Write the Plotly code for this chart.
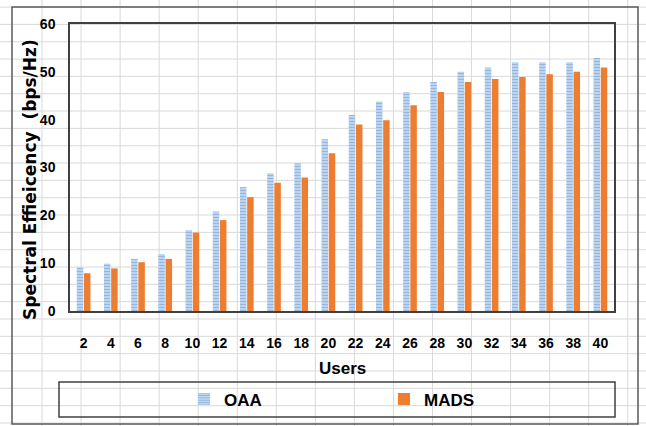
import plotly.graph_objects as go

users = ["2", "4", "6", "8", "10", "12", "14", "16", "18", "20",
         "22", "24", "26", "28", "30", "32", "34", "36", "38", "40"]
oaa = [9.1, 9.9, 10.9, 11.9, 16.9, 20.8, 25.9, 28.8, 30.9, 35.9,
       41.0, 43.8, 45.8, 47.9, 50.0, 50.9, 52.0, 52.0, 52.0, 52.9]
mads = [7.9, 8.9, 10.2, 10.9, 16.4, 19.0, 23.8, 26.8, 27.9, 33.0,
        39.0, 39.9, 43.0, 45.8, 47.9, 48.5, 48.9, 49.5, 50.0, 50.9]
y_ticks = [0, 10, 20, 30, 40, 50, 60]

W, H = 646, 426
L, R, T, B = 70, 614, 24, 311

def px(x):
    return (x - L) / (R - L)

def py(y):
    return (B - y) / (B - T)

fig = go.Figure()
fig.add_trace(go.Bar(
    x=users, y=oaa, name="OAA",
    marker=dict(color="#3f80cc", line=dict(width=0),
                pattern=dict(shape="-", size=3, solidity=0.67,
                             fgcolor="#3f80cc", bgcolor="#e6eff9")),
))
fig.add_trace(go.Bar(
    x=users, y=mads, name="MADS",
    marker=dict(color="#ed7d31", line=dict(width=0)),
))

shapes = []
grid = dict(color="#d9d9d9", width=1)
# spreadsheet cell grid behind the chart
k = 0
while True:
    xv = 42 + 39.05 * k
    if xv > W:
        break
    shapes.append(dict(type="line", xref="paper", yref="paper", layer="below",
                       x0=px(xv), x1=px(xv), y0=py(0), y1=py(H), line=grid))
    k += 1
k = -1
while True:
    yv = 24.4 + 17.33 * k
    if yv > H:
        break
    shapes.append(dict(type="line", xref="paper", yref="paper", layer="below",
                       x0=px(0), x1=px(W), y0=py(yv), y1=py(yv), line=grid))
    k += 1
# outer chart border
shapes.append(dict(type="rect", xref="paper", yref="paper", layer="below",
                   x0=px(12), x1=px(638), y0=py(424), y1=py(7),
                   line=dict(color="#595959", width=1.5)))
# legend box
shapes.append(dict(type="rect", xref="paper", yref="paper", layer="below",
                   x0=px(59), x1=px(615), y0=py(417), y1=py(382),
                   line=dict(color="#404040", width=1.5)))

tick_font = dict(family="Liberation Sans Narrow, Arial Narrow, Liberation Sans, sans-serif",
                 size=14, color="black", weight="bold")

fig.update_layout(
    width=W, height=H,
    margin=dict(l=L, r=W - R, t=T, b=H - B, autoexpand=False),
    paper_bgcolor="white", plot_bgcolor="rgba(0,0,0,0)",
    barmode="group", bargap=0.47, bargroupgap=0.1,
    shapes=shapes,
    showlegend=True,
    legend=dict(orientation="h", x=px(184), y=py(399.5), xanchor="left",
                yanchor="middle", bgcolor="rgba(0,0,0,0)",
                entrywidth=155, entrywidthmode="pixels",
                font=dict(family="Liberation Sans Narrow, Arial Narrow, Liberation Sans, sans-serif",
                          size=17, color="black", weight="bold")),
    xaxis=dict(type="category", showgrid=False, zeroline=False,
               showline=True, mirror=True, linecolor="#404040", linewidth=1.5,
               ticks="outside", ticklen=18, tickcolor="rgba(0,0,0,0)",
               tickfont=tick_font),
    yaxis=dict(range=[0, 60], tickvals=y_ticks, showgrid=False, zeroline=False,
               showline=True, mirror=True, linecolor="#404040", linewidth=1.5,
               ticks="outside", ticklen=10, tickcolor="rgba(0,0,0,0)",
               tickfont=tick_font),
    annotations=[
        dict(text="Users", xref="paper", yref="paper", x=px(342), y=py(368),
             showarrow=False, xanchor="center", yanchor="middle",
             font=dict(family="Liberation Sans Narrow, Arial Narrow, Liberation Sans, sans-serif",
                       size=17, color="black", weight="bold")),
        dict(text="Spectral Effieicency  (bps/Hz)", xref="paper", yref="paper",
             x=px(30), y=py(180), textangle=-90, showarrow=False,
             xanchor="center", yanchor="middle",
             font=dict(family="DejaVu Sans", size=17, color="black",
                       weight="bold")),
    ],
)

fig.write_html("out.html")
